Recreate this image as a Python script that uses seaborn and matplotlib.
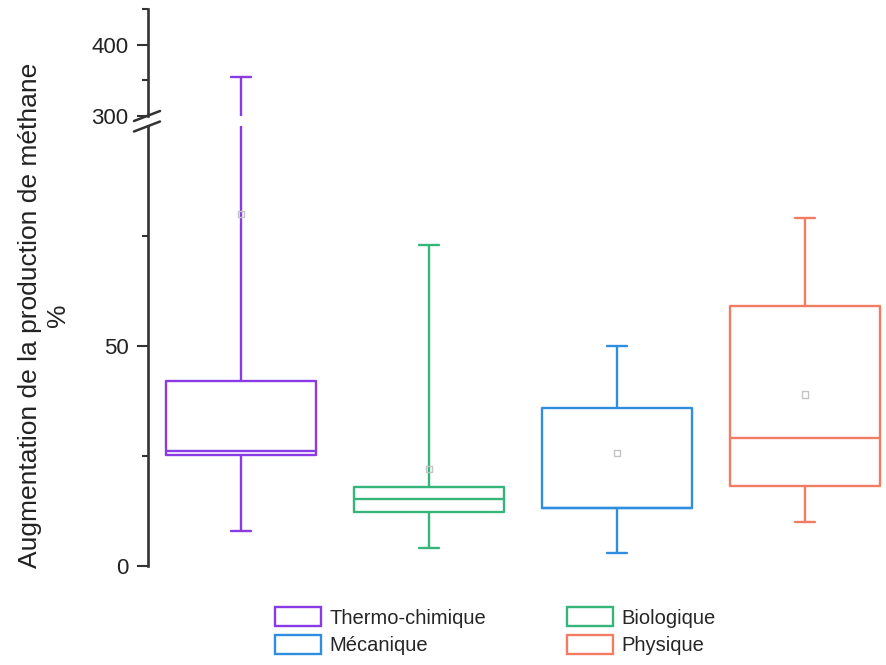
import pandas as pd
import matplotlib
matplotlib.use("Agg")
import matplotlib.pyplot as plt
import seaborn as sns
from matplotlib.patches import Patch
from matplotlib.lines import Line2D
from matplotlib.ticker import FixedLocator

# Five-number summaries (%)
categories = ["Thermo-chimique", "Biologique", "Mécanique", "Physique"]
whisker_low = [8, 4, 3, 10]
q1 = [25.2, 12.3, 13.2, 18.2]
median = [26.2, 15.2, 13.2, 29]
q3 = [42, 18, 36, 59]
whisker_high = [355, 73, 50, 79]
means = [80, 22, 25.7, 39]
colors = ["#8a3be6", "#35b57a", "#2f8ee0", "#f07c62"]

rows = []
for cat, lo, a, m, b, hi in zip(categories, whisker_low, q1, median, q3, whisker_high):
    for v in (lo, a, m, b, hi):
        rows.append({"Procédé": cat, "Valeur": v})
df = pd.DataFrame(rows)

sns.set_style("white")
plt.rcParams["font.family"] = ["Liberation Sans", "DejaVu Sans"]

W, H = 887, 665
fig = plt.figure(figsize=(W / 100, H / 100), dpi=100)
left = 148 / W
width = (887 - 148) / W
ax_top = fig.add_axes([left, 1 - 116 / H, width, (116 - 9.5) / H])
ax_bot = fig.add_axes([left, 1 - 566 / H, width, 440 / H])

for ax in (ax_top, ax_bot):
    sns.boxplot(data=df, x="Procédé", y="Valeur", hue="Procédé", order=categories,
                hue_order=categories, palette=colors, fill=False, whis=(0, 100),
                width=0.8, linewidth=1.7, showfliers=False, legend=False,
                capwidths=0.11, ax=ax)
    ax.scatter(range(len(categories)), means, marker="s", s=22,
               facecolors="none", edgecolors="#c4c4c4", linewidths=1, zorder=3)
    ax.set_xlim(-0.495, 3.436)
    ax.set_xticks([])
    ax.set_xlabel("")
    ax.set_ylabel("")
    for s in ("top", "right", "bottom"):
        ax.spines[s].set_visible(False)
    ax.spines["left"].set_linewidth(1.9)
    ax.spines["left"].set_color("#333333")
    ax.tick_params(axis="y", which="major", direction="out", length=8, width=1.5,
                   color="#333333", labelsize=16, labelcolor="#222222", pad=6, left=True)
    ax.tick_params(axis="y", which="minor", direction="out", length=4.5, width=1.5,
                   color="#333333", left=True)

ax_bot.set_ylim(0, 100)
ax_bot.set_yticks([0, 50])
ax_bot.yaxis.set_minor_locator(FixedLocator([25, 75]))
ax_top.set_ylim(300, 450)
ax_top.set_yticks([300, 400])
ax_top.yaxis.set_minor_locator(FixedLocator([350, 450]))

# axis break marks
for yc in (116, 126.5):
    x0, x1 = 134, 160
    fig.add_artist(Line2D([x0 / W, x1 / W], [1 - (yc + 5) / H, 1 - (yc - 5) / H],
                          color="#333333", linewidth=1.8))

fig.text(0.050, 1 - 315 / H, "Augmentation de la production de méthane\n%",
         rotation=90, ha="center", va="center", fontsize=19, color="#222222",
         multialignment="center")

handles = [Patch(facecolor="white", edgecolor=colors[i], linewidth=1.7) for i in (0, 2, 1, 3)]
labels = [categories[i] for i in (0, 2, 1, 3)]
fig.legend(handles, labels, ncol=2, loc="upper left", bbox_to_anchor=(275 / W, 1 - 607 / H),
           frameon=False, fontsize=14.5, handlelength=2.3, handleheight=1.1,
           handletextpad=0.4, columnspacing=4.0, labelspacing=0.35,
           borderpad=0, borderaxespad=0)

fig.savefig("out.png", dpi=100)
